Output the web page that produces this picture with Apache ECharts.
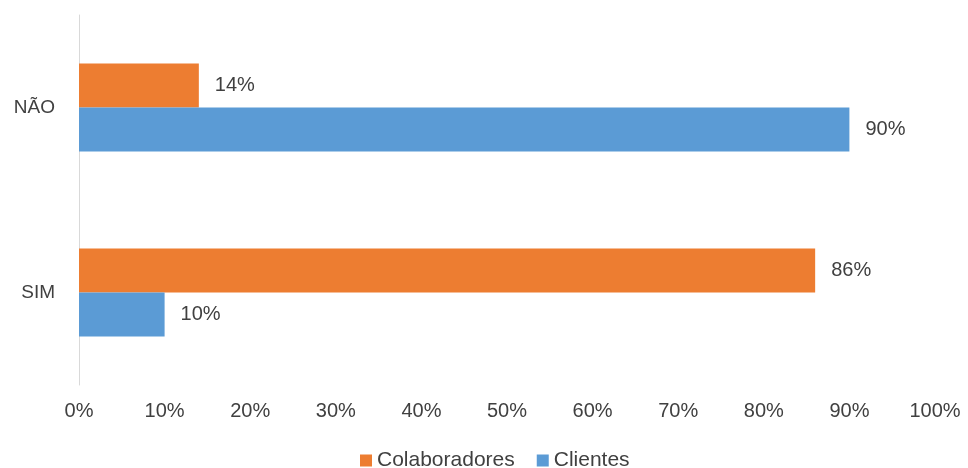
<!DOCTYPE html>
<html>
<head>
<meta charset="utf-8">
<script src="https://cdn.jsdelivr.net/npm/echarts@6/dist/echarts.min.js"></script>
<style>html,body{margin:0;padding:0;background:#fff;}#c{width:968px;height:468px;}</style>
</head>
<body>
<div id="c"></div>
<script>
const categories = ['SIM', 'NÃO'];
const colaboradores = [86, 14];
const clientes = [10, 90];
const seriesNames = ['Colaboradores', 'Clientes'];

const chart = echarts.init(document.getElementById('c'));
const labelStyle = {show: true, position: 'right', distance: 16, formatter: '{c}%', color: '#404040', fontSize: 20, fontFamily: 'Liberation Sans, Arial'};
chart.setOption({
  animation: false,
  textStyle: {fontFamily: 'Liberation Sans, Arial'},
  grid: {left: 79, right: 33, top: 15, bottom: 83, containLabel: false},
  legend: {
    data: seriesNames, left: 360, top: 450, padding: 0, itemWidth: 12, itemHeight: 12, itemGap: 22,
    icon: 'rect', textStyle: {fontSize: 21, color: '#404040', fontFamily: 'Liberation Sans, Arial'}
  },
  xAxis: {
    type: 'value', min: 0, max: 100, interval: 10,
    axisLabel: {formatter: '{value}%', fontSize: 20, color: '#404040', margin: 16},
    axisLine: {show: false}, axisTick: {show: false}, splitLine: {show: false}
  },
  yAxis: {
    type: 'category', data: categories,
    axisLine: {show: true, lineStyle: {color: '#d9d9d9', width: 1}},
    axisTick: {show: false},
    axisLabel: {fontSize: 19, color: '#404040', margin: 24}
  },
  series: [
    {name: 'Colaboradores', type: 'bar', data: colaboradores, barWidth: 44, barGap: '0%', itemStyle: {color: '#ED7D31'}, label: labelStyle},
    {name: 'Clientes', type: 'bar', data: clientes, barWidth: 44, barGap: '0%', itemStyle: {color: '#5B9BD5'}, label: labelStyle}
  ]
});
</script>
</body>
</html>
